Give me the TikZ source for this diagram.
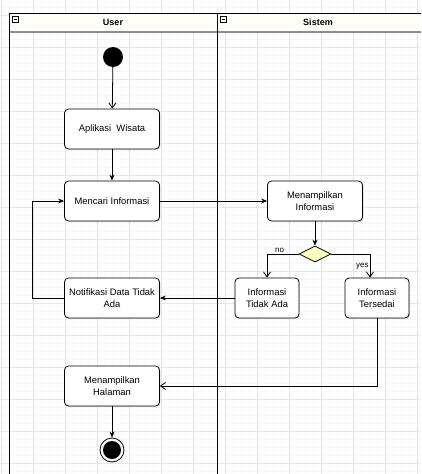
\documentclass[tikz,border=0pt]{standalone}
\usepackage{fontspec}
\setmainfont{Liberation Sans}
\usetikzlibrary{arrows.meta,shapes.geometric,shadows}
\definecolor{gridminor}{RGB}{248,248,248}
\definecolor{gridmajor}{RGB}{230,230,230}
\definecolor{headfill}{RGB}{255,255,248}
\definecolor{headline}{RGB}{140,140,156}
\definecolor{decfill}{RGB}{255,255,192}
\tikzset{
  act/.style={draw, rounded corners=4pt, fill=white, line width=0.8pt,
    minimum width=95pt, minimum height=40pt, inner sep=1pt, align=center,
    font=\fontsize{9.4}{12}\selectfont,
    drop shadow={opacity=0.25, shadow xshift=1.2pt, shadow yshift=-1.2pt}},
  smallact/.style={act, minimum width=64pt},
  decision/.style={diamond, draw, fill=decfill, line width=0.8pt, aspect=2,
    inner sep=0pt, minimum width=32pt, minimum height=16pt},
  startnode/.style={circle, fill=black, minimum size=20pt, inner sep=0pt},
  endnode/.style={circle, draw, line width=0.8pt, minimum size=24pt, inner sep=0pt},
  guard/.style={font=\fontsize{8}{9}\selectfont, inner sep=1pt},
  flow/.style={line width=0.8pt, -{Stealth[length=6pt,width=5pt]}},
  openflow/.style={line width=0.8pt, -{Straight Barb[length=5pt,width=7pt]}},
}
\begin{document}
\begin{tikzpicture}[x=1pt, y=-1pt]
  \useasboundingbox (0,0) rectangle (421,474);
  % grid
  \foreach \x in {1,9,...,421} \draw[gridminor] (\x,0) -- (\x,474);
  \foreach \y in {7,15,...,474} \draw[gridminor] (0,\y) -- (421,\y);
  \foreach \x in {1,33,...,421} \draw[gridmajor] (\x,0) -- (\x,474);
  \foreach \y in {15,47,...,474} \draw[gridmajor] (0,\y) -- (421,\y);
  % swimlanes
  \fill[headfill] (9,13) rectangle (421,32);
  \draw[headline, line width=2pt] (9,32) -- (421,32);
  \draw[line width=0.9pt] (421,13) -- (9,13) -- (9,474);
  \draw[line width=0.9pt] (217,13) -- (217,474);
  \draw[line width=0.4pt, fill=white] (12,16) rectangle (18,22);
  \draw[line width=0.5pt] (13.5,19) -- (16.5,19);
  \draw[line width=0.4pt, fill=white] (220,16) rectangle (226,22);
  \draw[line width=0.5pt] (221.5,19) -- (224.5,19);
  \node[font=\fontsize{9}{10}\selectfont\bfseries] (user) at (113,22) {User};
  \node[font=\fontsize{9}{10}\selectfont\bfseries] (sistem) at (318,22) {Sistem};
  % activities
  \draw
    (113,57) node[startnode] (start){}
    (112,129) node[act] (aplikasi){Aplikasi~~Wisata}
    (112,201) node[act] (mencari){Mencari Informasi}
    (315,201) node[act] (tampilinfo){Menampilkan\\Informasi}
    (315,254) node[decision] (cek){}
    (267,298) node[smallact] (tidakada){Informasi\\Tidak Ada}
    (377,298) node[smallact] (tersedia){Informasi\\Tersedai}
    (112,298) node[act] (notif){Notifikasi Data Tidak\\Ada}
    (112,386) node[act] (halaman){Menampilkan\\Halaman}
    (112,450) node[endnode] (selesai){};
  \fill (selesai) circle (9);
  \begin{scope}[flow]
    \draw[openflow] (start) to (aplikasi);
    \draw (aplikasi) to (mencari);
    \draw (mencari) to (tampilinfo);
    \draw (tampilinfo) to (cek);
    \draw[openflow] (cek.west) -| node[guard, pos=0.3, above] {no} (tidakada.north);
    \draw[openflow] (cek.east) -| node[guard, pos=0.75, left, fill=white] {yes} ([xshift=-7pt]tersedia.north);
    \draw (tidakada) to (notif);
    \draw (notif.west) -- ++(-32,0) |- (mencari.west);
    \draw[openflow] (tersedia.south) |- (halaman.east);
    \draw (halaman) to (selesai);
  \end{scope}
\end{tikzpicture}
\end{document}
